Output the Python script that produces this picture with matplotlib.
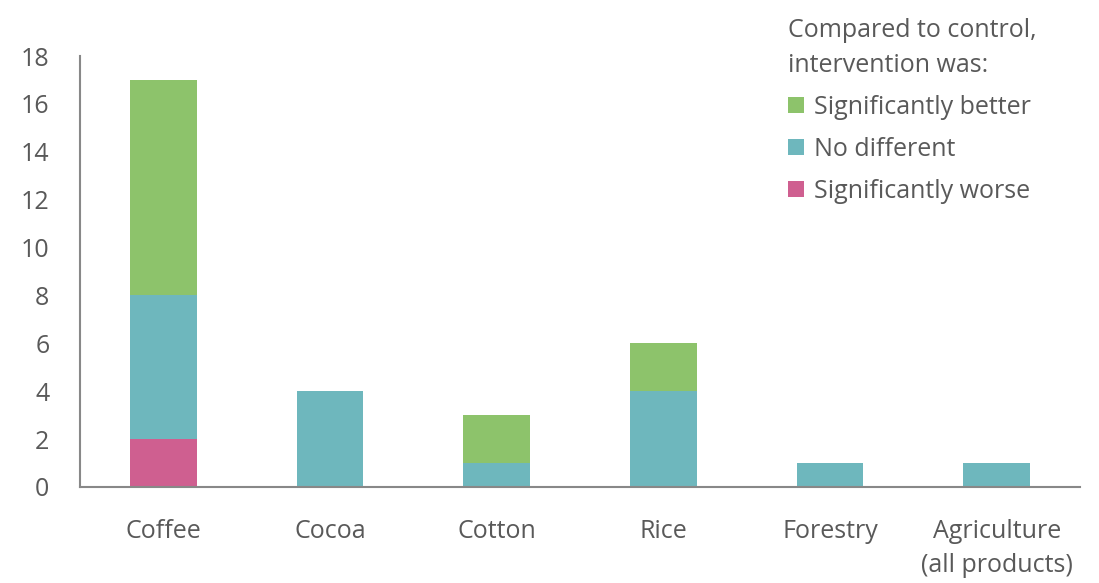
import matplotlib
matplotlib.use("Agg")
import matplotlib.pyplot as plt
import numpy as np

categories = ["Coffee", "Cocoa", "Cotton", "Rice", "Forestry", "Agriculture\n(all products)"]
worse = [2, 0, 0, 0, 0, 0]
no_diff = [6, 4, 1, 4, 1, 1]
better = [9, 0, 2, 2, 0, 0]

GREEN = "#8DC36B"
TEAL = "#6EB7BD"
PINK = "#CF5F90"
TEXT = "#595959"
AXIS = "#888888"

plt.rcParams["font.family"] = ["Open Sans", "DejaVu Sans"]

fig = plt.figure(figsize=(10.99, 5.83), dpi=100)
ax = fig.add_axes([80 / 1099, 1 - 487 / 583, 1000 / 1099, (487 - 56) / 583])

x = np.arange(len(categories))
w = 0.4
ax.bar(x, worse, w, color=PINK, label="Significantly worse")
ax.bar(x, no_diff, w, bottom=worse, color=TEAL, label="No different")
ax.bar(x, better, w, bottom=np.add(worse, no_diff), color=GREEN, label="Significantly better")

ax.set_xlim(-0.5, len(categories) - 0.5)
ax.set_ylim(0, 18)
ax.set_yticks(range(0, 19, 2))
ax.set_xticks(x)
ax.set_xticklabels(categories, linespacing=1.5)
ax.tick_params(length=0, labelsize=18, colors=TEXT)
ax.tick_params(axis="y", pad=22)
ax.tick_params(axis="x", pad=23)

for s in ["top", "right"]:
    ax.spines[s].set_visible(False)
for s in ["left", "bottom"]:
    ax.spines[s].set_color(AXIS)
    ax.spines[s].set_linewidth(1.5)

handles, labels = ax.get_legend_handles_labels()
leg = fig.legend(handles[::-1], labels[::-1], loc="upper left",
                 bbox_to_anchor=(775 / 1099, 0.99), frameon=False,
                 title="Compared to control,\nintervention was:",
                 alignment="left", fontsize=18, title_fontsize=18,
                 handlelength=0.65, handleheight=0.65, handletextpad=0.4,
                 labelspacing=0.68, borderpad=0)
for t in leg.get_texts():
    t.set_color(TEXT)
leg.get_title().set_color(TEXT)
leg.get_title().set_linespacing(1.5)

fig.savefig("out.png", dpi=100)
